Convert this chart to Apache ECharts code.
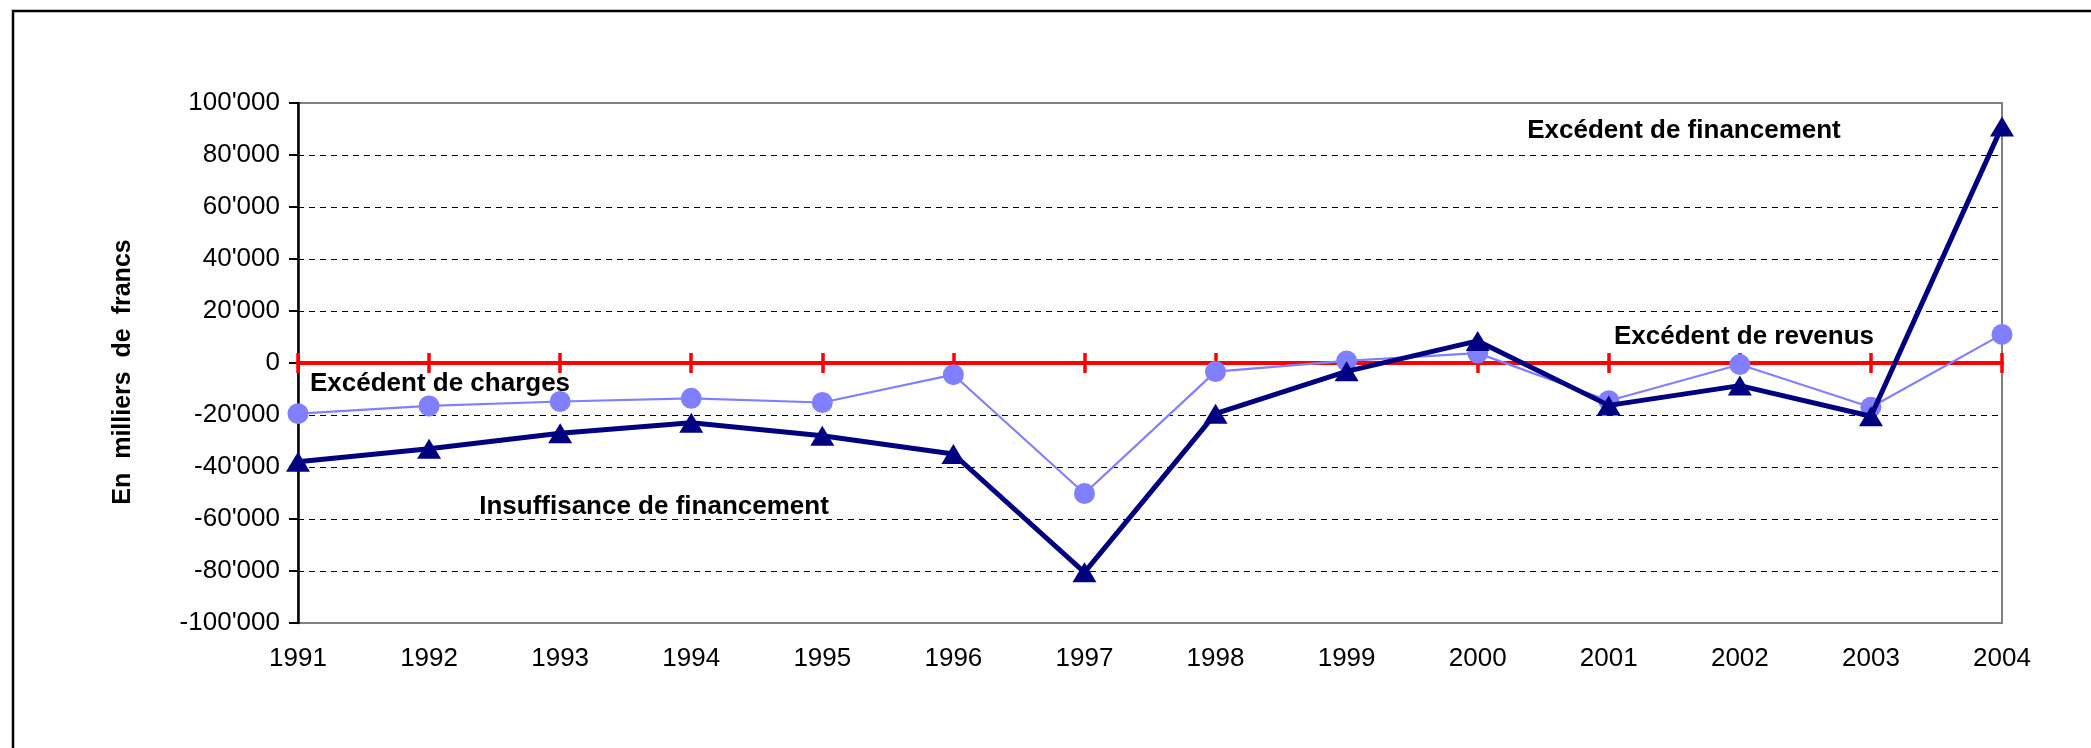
<!DOCTYPE html>
<html>
<head>
<meta charset="utf-8">
<script src="https://cdn.jsdelivr.net/npm/echarts@6/dist/echarts.min.js"></script>
<style>
html,body{margin:0;padding:0;background:#ffffff;}
#chart{width:2091px;height:748px;}
</style>
</head>
<body>
<div id="chart"></div>
<script>
// ---- data ----
const years = ['1991','1992','1993','1994','1995','1996','1997','1998','1999','2000','2001','2002','2003','2004'];
// Excédent / insuffisance de financement (dark navy, triangles)
const financement = [-38000, -33000, -27000, -23000, -28000, -35000, -80500, -19500, -3200, 8500, -16300, -8700, -20500, 91000];
// Excédent de revenus / charges (light blue, circles)
const revenus = [-19500, -16500, -14800, -13600, -15200, -4500, -50200, -3300, 800, 3800, -14500, -600, -17000, 11000];
const yTickLabels = ["-100'000", "-80'000", "-60'000", "-40'000", "-20'000", "0", "20'000", "40'000", "60'000", "80'000", "100'000"];
const yMin = -100000, yMax = 100000, yStep = 20000;
const yTitle = 'En  milliers  de  francs';
const notes = ['Excédent de financement', 'Excédent de revenus', 'Excédent de charges', 'Insuffisance de financement'];

const FONT = "'Liberation Sans', Arial, sans-serif";
const chart = echarts.init(document.getElementById('chart'), null, {renderer: 'canvas'});

const redAxis = (pos) => ({
  type: 'category', data: years, boundaryGap: false, position: pos, z: 1,
  axisLine: {show: true, onZero: true, onZeroAxisIndex: 0, lineStyle: {color: '#ff0000', width: 4}},
  axisTick: {show: true, length: 10, lineStyle: {color: '#ff0000', width: 3.5}},
  axisLabel: {show: false}, splitLine: {show: false}
});

const option = {
  animation: false,
  backgroundColor: '#ffffff',
  grid: {left: 298, top: 103, right: 89, bottom: 125, show: true, borderColor: '#808080', borderWidth: 2, backgroundColor: 'transparent'},
  xAxis: [
    {
      type: 'category', data: years, boundaryGap: false, position: 'bottom',
      axisLine: {show: false, onZero: false}, axisTick: {show: false},
      axisLabel: {show: true, interval: 0, margin: 23, color: '#000', fontFamily: FONT, fontSize: 26},
      splitLine: {show: false}
    },
    redAxis('bottom'),
    redAxis('top')
  ],
  yAxis: {
    type: 'value', min: yMin, max: yMax, interval: yStep,
    axisLine: {show: true, onZero: false, lineStyle: {color: '#000', width: 2.5}},
    axisTick: {show: true, length: 9, lineStyle: {color: '#000', width: 2}},
    axisLabel: {margin: 18, color: '#000', fontFamily: FONT, fontSize: 26,
      formatter: (v) => yTickLabels[Math.round((v - yMin) / yStep)]},
    splitLine: {show: true, showMinLine: false, showMaxLine: false, lineStyle: {color: '#000', width: 1, type: [6, 5]}}
  },
  series: [
    {
      name: 'revenus', type: 'line', data: revenus, z: 3,
      symbol: 'circle', symbolSize: 21,
      lineStyle: {color: '#8080ff', width: 2.2},
      itemStyle: {color: '#8080ff'}
    },
    {
      name: 'financement', type: 'line', data: financement, z: 4,
      symbol: 'triangle', symbolSize: [24, 20],
      lineStyle: {color: '#000080', width: 5},
      itemStyle: {color: '#000080'}
    }
  ],
  graphic: [
    {type: 'rect', silent: true, shape: {x: 13, y: 11, width: 2300, height: 1000}, style: {fill: 'none', stroke: '#000', lineWidth: 2.5}, z: 10},
    {type: 'text', silent: true, x: 123, y: 372, rotation: Math.PI / 2,
      style: {text: yTitle, fill: '#000', font: 'bold 25px ' + FONT, textAlign: 'center', textVerticalAlign: 'middle'}},
    {type: 'text', silent: true, x: 1684, y: 131,
      style: {text: notes[0], fill: '#000', font: 'bold 26px ' + FONT, textAlign: 'center', textVerticalAlign: 'middle'}, z: 10},
    {type: 'text', silent: true, x: 1744, y: 337,
      style: {text: notes[1], fill: '#000', font: 'bold 26px ' + FONT, textAlign: 'center', textVerticalAlign: 'middle'}, z: 10},
    {type: 'text', silent: true, x: 440, y: 384,
      style: {text: notes[2], fill: '#000', font: 'bold 26px ' + FONT, textAlign: 'center', textVerticalAlign: 'middle'}, z: 10},
    {type: 'text', silent: true, x: 654, y: 507,
      style: {text: notes[3], fill: '#000', font: 'bold 26px ' + FONT, textAlign: 'center', textVerticalAlign: 'middle'}, z: 10}
  ]
};
chart.setOption(option);
</script>
</body>
</html>
